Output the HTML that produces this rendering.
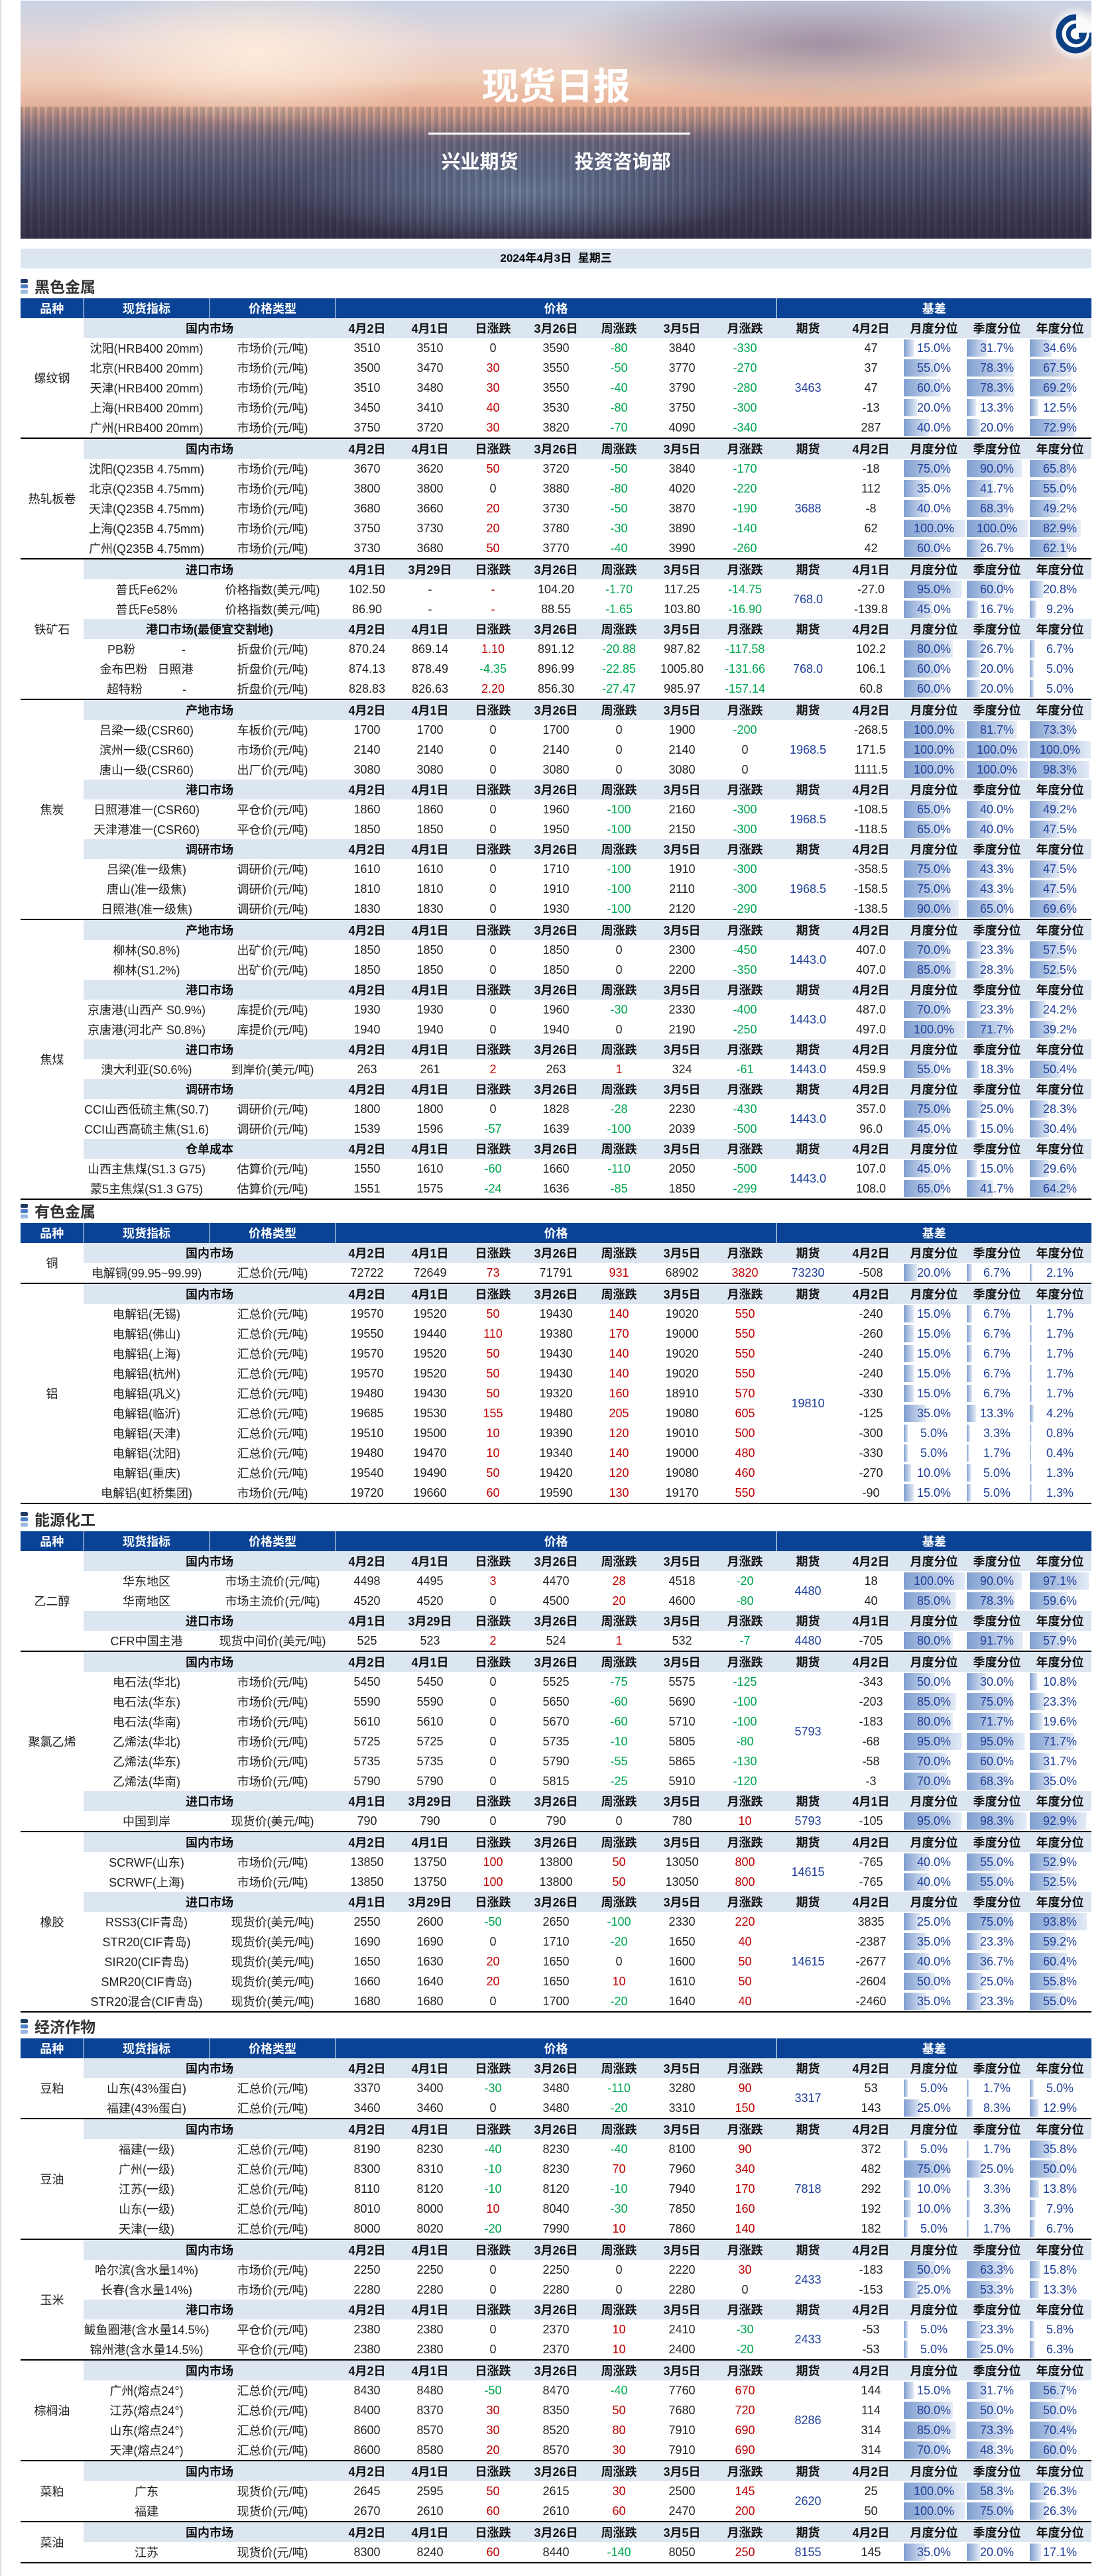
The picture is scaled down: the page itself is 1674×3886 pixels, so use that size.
<!DOCTYPE html>
<html><head><meta charset="utf-8">
<style>
body{margin:0;width:1674px;height:3886px;position:relative;background:#fff;font-family:"Liberation Sans","Noto Sans CJK SC",sans-serif;overflow:hidden;border-left:2px solid #ddd;box-sizing:border-box}
.hero{position:absolute;left:29px;top:1px;width:1615px;height:359px;overflow:hidden;
background:
radial-gradient(ellipse 22% 22% at 47% 80%,rgba(120,140,170,.95),rgba(120,140,170,0) 100%),
radial-gradient(ellipse 18% 30% at 22% 22%,rgba(255,236,220,.95),rgba(255,236,220,0) 100%),
radial-gradient(ellipse 25% 25% at 75% 18%,rgba(130,115,140,.7),rgba(130,115,140,0) 100%),
radial-gradient(ellipse 40% 12% at 50% 45%,rgba(240,180,150,.7),rgba(240,180,150,0) 100%),
linear-gradient(180deg,#c8d2e4 0%,#e6d6d6 18%,#efcdb8 33%,#e3b29d 44%,#a88c92 52%,#76728c 60%,#5a5f7e 72%,#4a4865 86%,#3a3550 100%)}
.hero .city{position:absolute;left:0;top:160px;width:100%;height:200px;background:repeating-linear-gradient(90deg,rgba(40,40,60,.25) 0 3px,rgba(200,150,130,.15) 3px 7px,rgba(30,30,50,.2) 7px 11px);mix-blend-mode:multiply}
.hero .t{position:absolute;left:0;width:100%;text-align:center;color:#fff;font-weight:bold}
.logo{position:absolute;left:1550px;top:8px;width:84px;height:84px;border-radius:50%;background:radial-gradient(circle,rgba(255,255,255,.9) 40%,rgba(255,255,255,0) 70%)}
.date{position:absolute;left:29px;top:375px;width:1615px;height:30px;background:#dce6f1;text-align:center;line-height:30px;font-weight:bold;font-size:17px}
.sec{position:absolute;left:29px;height:28px;font-size:23px;font-weight:bold;color:#333;line-height:28px;padding-left:21px}
.sec i{position:absolute;left:0;width:11px;height:6px;border-radius:2px}
table{position:absolute;left:29px;width:1615px;border-collapse:collapse;table-layout:fixed;font-size:18px}
td{height:30px;padding:0;text-align:center;white-space:nowrap;overflow:hidden;color:#222}
tr.h td{background:#0a4396;color:#fff;font-weight:bold;border-left:1px solid #fff}
tr.h td:first-child{border-left:0}
tr.s td{background:#dce6f1;font-weight:bold;color:#111}
tr.s td.c,td.c{background:#fff;font-weight:normal;color:#222}
tbody{border-bottom:2px solid #000}
td.r{color:#c00000}td.g{color:#00a651}td.b{color:#1f3f99}
td.p{color:#1f3f99;background:linear-gradient(90deg,#7f9ed0,#e4ebf6) no-repeat 2px 50%/calc(var(--p)*0.9px + 2px) 26px}
</style></head><body>
<div class="hero">
<div class="city"></div>
<div class="t" style="top:95px;font-size:56px;line-height:70px;">现货日报</div>
<div style="position:absolute;left:615px;top:199px;width:395px;height:3px;background:#fff"></div>
<div class="t" style="top:226px;font-size:29px;line-height:36px;word-spacing:0"><span style="margin-right:85px">兴业期货</span>投资咨询部</div>
<div class="logo"><svg width="84" height="84" viewBox="0 0 84 84"><path d="M42 17 A25 25 0 1 0 66 40" fill="none" stroke="#0b3f84" stroke-width="9"/><path d="M42 30 A12 12 0 1 0 54 44 L46 44" fill="none" stroke="#0b3f84" stroke-width="7"/></svg></div>
</div>
<div class="date">2024年4月3日&nbsp;&nbsp;星期三</div>

<div class="sec" style="top:419px"><i style="top:2px;background:#1f3b66"></i><i style="top:10px;background:#4f7fc4"></i><i style="top:18px;background:#9bb8e0"></i>黑色金属</div>
<table style="top:450px">
<colgroup><col style="width:95px"><col style="width:190px"><col style="width:190px"><col span="12" style="width:95px"></colgroup>
<thead><tr class="h"><td>品种</td><td>现货指标</td><td>价格类型</td><td colspan="7">价格</td><td colspan="5">基差</td></tr></thead>
<tbody>
<tr class="s"><td class="c" rowspan="6">螺纹钢</td><td colspan="2">国内市场</td><td>4月2日</td><td>4月1日</td><td>日涨跌</td><td>3月26日</td><td>周涨跌</td><td>3月5日</td><td>月涨跌</td><td>期货</td><td>4月2日</td><td>月度分位</td><td>季度分位</td><td>年度分位</td></tr>
<tr><td>沈阳(HRB400 20mm)</td><td>市场价(元/吨)</td><td>3510</td><td>3510</td><td>0</td><td>3590</td><td class="g">-80</td><td>3840</td><td class="g">-330</td><td class="b" rowspan="5">3463</td><td>47</td><td class="p" style="--p:15">15.0%</td><td class="p" style="--p:31.7">31.7%</td><td class="p" style="--p:34.6">34.6%</td></tr>
<tr><td>北京(HRB400 20mm)</td><td>市场价(元/吨)</td><td>3500</td><td>3470</td><td class="r">30</td><td>3550</td><td class="g">-50</td><td>3770</td><td class="g">-270</td><td>37</td><td class="p" style="--p:55">55.0%</td><td class="p" style="--p:78.3">78.3%</td><td class="p" style="--p:67.5">67.5%</td></tr>
<tr><td>天津(HRB400 20mm)</td><td>市场价(元/吨)</td><td>3510</td><td>3480</td><td class="r">30</td><td>3550</td><td class="g">-40</td><td>3790</td><td class="g">-280</td><td>47</td><td class="p" style="--p:60">60.0%</td><td class="p" style="--p:78.3">78.3%</td><td class="p" style="--p:69.2">69.2%</td></tr>
<tr><td>上海(HRB400 20mm)</td><td>市场价(元/吨)</td><td>3450</td><td>3410</td><td class="r">40</td><td>3530</td><td class="g">-80</td><td>3750</td><td class="g">-300</td><td>-13</td><td class="p" style="--p:20">20.0%</td><td class="p" style="--p:13.3">13.3%</td><td class="p" style="--p:12.5">12.5%</td></tr>
<tr><td>广州(HRB400 20mm)</td><td>市场价(元/吨)</td><td>3750</td><td>3720</td><td class="r">30</td><td>3820</td><td class="g">-70</td><td>4090</td><td class="g">-340</td><td>287</td><td class="p" style="--p:40">40.0%</td><td class="p" style="--p:20">20.0%</td><td class="p" style="--p:72.9">72.9%</td></tr>
</tbody>
<tbody>
<tr class="s"><td class="c" rowspan="6">热轧板卷</td><td colspan="2">国内市场</td><td>4月2日</td><td>4月1日</td><td>日涨跌</td><td>3月26日</td><td>周涨跌</td><td>3月5日</td><td>月涨跌</td><td>期货</td><td>4月2日</td><td>月度分位</td><td>季度分位</td><td>年度分位</td></tr>
<tr><td>沈阳(Q235B 4.75mm)</td><td>市场价(元/吨)</td><td>3670</td><td>3620</td><td class="r">50</td><td>3720</td><td class="g">-50</td><td>3840</td><td class="g">-170</td><td class="b" rowspan="5">3688</td><td>-18</td><td class="p" style="--p:75">75.0%</td><td class="p" style="--p:90">90.0%</td><td class="p" style="--p:65.8">65.8%</td></tr>
<tr><td>北京(Q235B 4.75mm)</td><td>市场价(元/吨)</td><td>3800</td><td>3800</td><td>0</td><td>3880</td><td class="g">-80</td><td>4020</td><td class="g">-220</td><td>112</td><td class="p" style="--p:35">35.0%</td><td class="p" style="--p:41.7">41.7%</td><td class="p" style="--p:55">55.0%</td></tr>
<tr><td>天津(Q235B 4.75mm)</td><td>市场价(元/吨)</td><td>3680</td><td>3660</td><td class="r">20</td><td>3730</td><td class="g">-50</td><td>3870</td><td class="g">-190</td><td>-8</td><td class="p" style="--p:40">40.0%</td><td class="p" style="--p:68.3">68.3%</td><td class="p" style="--p:49.2">49.2%</td></tr>
<tr><td>上海(Q235B 4.75mm)</td><td>市场价(元/吨)</td><td>3750</td><td>3730</td><td class="r">20</td><td>3780</td><td class="g">-30</td><td>3890</td><td class="g">-140</td><td>62</td><td class="p" style="--p:100">100.0%</td><td class="p" style="--p:100">100.0%</td><td class="p" style="--p:82.9">82.9%</td></tr>
<tr><td>广州(Q235B 4.75mm)</td><td>市场价(元/吨)</td><td>3730</td><td>3680</td><td class="r">50</td><td>3770</td><td class="g">-40</td><td>3990</td><td class="g">-260</td><td>42</td><td class="p" style="--p:60">60.0%</td><td class="p" style="--p:26.7">26.7%</td><td class="p" style="--p:62.1">62.1%</td></tr>
</tbody>
<tbody>
<tr class="s"><td class="c" rowspan="7">铁矿石</td><td colspan="2">进口市场</td><td>4月1日</td><td>3月29日</td><td>日涨跌</td><td>3月26日</td><td>周涨跌</td><td>3月5日</td><td>月涨跌</td><td>期货</td><td>4月1日</td><td>月度分位</td><td>季度分位</td><td>年度分位</td></tr>
<tr><td>普氏Fe62%</td><td>价格指数(美元/吨)</td><td>102.50</td><td>-</td><td class="r">-</td><td>104.20</td><td class="g">-1.70</td><td>117.25</td><td class="g">-14.75</td><td class="b" rowspan="2">768.0</td><td>-27.0</td><td class="p" style="--p:95">95.0%</td><td class="p" style="--p:60">60.0%</td><td class="p" style="--p:20.8">20.8%</td></tr>
<tr><td>普氏Fe58%</td><td>价格指数(美元/吨)</td><td>86.90</td><td>-</td><td class="r">-</td><td>88.55</td><td class="g">-1.65</td><td>103.80</td><td class="g">-16.90</td><td>-139.8</td><td class="p" style="--p:45">45.0%</td><td class="p" style="--p:16.7">16.7%</td><td class="p" style="--p:9.2">9.2%</td></tr>
<tr class="s"><td colspan="2">港口市场(最便宜交割地)</td><td>4月2日</td><td>4月1日</td><td>日涨跌</td><td>3月26日</td><td>周涨跌</td><td>3月5日</td><td>月涨跌</td><td>期货</td><td>4月2日</td><td>月度分位</td><td>季度分位</td><td>年度分位</td></tr>
<tr><td>PB粉&nbsp;&nbsp;&nbsp;&nbsp;&nbsp;&nbsp;&nbsp;&nbsp;&nbsp;&nbsp;&nbsp;&nbsp;&nbsp;&nbsp;-</td><td>折盘价(元/吨)</td><td>870.24</td><td>869.14</td><td class="r">1.10</td><td>891.12</td><td class="g">-20.88</td><td>987.82</td><td class="g">-117.58</td><td class="b" rowspan="3">768.0</td><td>102.2</td><td class="p" style="--p:80">80.0%</td><td class="p" style="--p:26.7">26.7%</td><td class="p" style="--p:6.7">6.7%</td></tr>
<tr><td>金布巴粉&nbsp;&nbsp;&nbsp;日照港</td><td>折盘价(元/吨)</td><td>874.13</td><td>878.49</td><td class="g">-4.35</td><td>896.99</td><td class="g">-22.85</td><td>1005.80</td><td class="g">-131.66</td><td>106.1</td><td class="p" style="--p:60">60.0%</td><td class="p" style="--p:20">20.0%</td><td class="p" style="--p:5">5.0%</td></tr>
<tr><td>超特粉&nbsp;&nbsp;&nbsp;&nbsp;&nbsp;&nbsp;&nbsp;&nbsp;&nbsp;&nbsp;&nbsp;&nbsp;-</td><td>折盘价(元/吨)</td><td>828.83</td><td>826.63</td><td class="r">2.20</td><td>856.30</td><td class="g">-27.47</td><td>985.97</td><td class="g">-157.14</td><td>60.8</td><td class="p" style="--p:60">60.0%</td><td class="p" style="--p:20">20.0%</td><td class="p" style="--p:5">5.0%</td></tr>
</tbody>
<tbody>
<tr class="s"><td class="c" rowspan="11">焦炭</td><td colspan="2">产地市场</td><td>4月2日</td><td>4月1日</td><td>日涨跌</td><td>3月26日</td><td>周涨跌</td><td>3月5日</td><td>月涨跌</td><td>期货</td><td>4月2日</td><td>月度分位</td><td>季度分位</td><td>年度分位</td></tr>
<tr><td>吕梁一级(CSR60)</td><td>车板价(元/吨)</td><td>1700</td><td>1700</td><td>0</td><td>1700</td><td>0</td><td>1900</td><td class="g">-200</td><td class="b" rowspan="3">1968.5</td><td>-268.5</td><td class="p" style="--p:100">100.0%</td><td class="p" style="--p:81.7">81.7%</td><td class="p" style="--p:73.3">73.3%</td></tr>
<tr><td>滨州一级(CSR60)</td><td>市场价(元/吨)</td><td>2140</td><td>2140</td><td>0</td><td>2140</td><td>0</td><td>2140</td><td>0</td><td>171.5</td><td class="p" style="--p:100">100.0%</td><td class="p" style="--p:100">100.0%</td><td class="p" style="--p:100">100.0%</td></tr>
<tr><td>唐山一级(CSR60)</td><td>出厂价(元/吨)</td><td>3080</td><td>3080</td><td>0</td><td>3080</td><td>0</td><td>3080</td><td>0</td><td>1111.5</td><td class="p" style="--p:100">100.0%</td><td class="p" style="--p:100">100.0%</td><td class="p" style="--p:98.3">98.3%</td></tr>
<tr class="s"><td colspan="2">港口市场</td><td>4月2日</td><td>4月1日</td><td>日涨跌</td><td>3月26日</td><td>周涨跌</td><td>3月5日</td><td>月涨跌</td><td>期货</td><td>4月2日</td><td>月度分位</td><td>季度分位</td><td>年度分位</td></tr>
<tr><td>日照港准一(CSR60)</td><td>平仓价(元/吨)</td><td>1860</td><td>1860</td><td>0</td><td>1960</td><td class="g">-100</td><td>2160</td><td class="g">-300</td><td class="b" rowspan="2">1968.5</td><td>-108.5</td><td class="p" style="--p:65">65.0%</td><td class="p" style="--p:40">40.0%</td><td class="p" style="--p:49.2">49.2%</td></tr>
<tr><td>天津港准一(CSR60)</td><td>平仓价(元/吨)</td><td>1850</td><td>1850</td><td>0</td><td>1950</td><td class="g">-100</td><td>2150</td><td class="g">-300</td><td>-118.5</td><td class="p" style="--p:65">65.0%</td><td class="p" style="--p:40">40.0%</td><td class="p" style="--p:47.5">47.5%</td></tr>
<tr class="s"><td colspan="2">调研市场</td><td>4月2日</td><td>4月1日</td><td>日涨跌</td><td>3月26日</td><td>周涨跌</td><td>3月5日</td><td>月涨跌</td><td>期货</td><td>4月2日</td><td>月度分位</td><td>季度分位</td><td>年度分位</td></tr>
<tr><td>吕梁(准一级焦)</td><td>调研价(元/吨)</td><td>1610</td><td>1610</td><td>0</td><td>1710</td><td class="g">-100</td><td>1910</td><td class="g">-300</td><td class="b" rowspan="3">1968.5</td><td>-358.5</td><td class="p" style="--p:75">75.0%</td><td class="p" style="--p:43.3">43.3%</td><td class="p" style="--p:47.5">47.5%</td></tr>
<tr><td>唐山(准一级焦)</td><td>调研价(元/吨)</td><td>1810</td><td>1810</td><td>0</td><td>1910</td><td class="g">-100</td><td>2110</td><td class="g">-300</td><td>-158.5</td><td class="p" style="--p:75">75.0%</td><td class="p" style="--p:43.3">43.3%</td><td class="p" style="--p:47.5">47.5%</td></tr>
<tr><td>日照港(准一级焦)</td><td>调研价(元/吨)</td><td>1830</td><td>1830</td><td>0</td><td>1930</td><td class="g">-100</td><td>2120</td><td class="g">-290</td><td>-138.5</td><td class="p" style="--p:90">90.0%</td><td class="p" style="--p:65">65.0%</td><td class="p" style="--p:69.6">69.6%</td></tr>
</tbody>
<tbody>
<tr class="s"><td class="c" rowspan="14">焦煤</td><td colspan="2">产地市场</td><td>4月2日</td><td>4月1日</td><td>日涨跌</td><td>3月26日</td><td>周涨跌</td><td>3月5日</td><td>月涨跌</td><td>期货</td><td>4月2日</td><td>月度分位</td><td>季度分位</td><td>年度分位</td></tr>
<tr><td>柳林(S0.8%)</td><td>出矿价(元/吨)</td><td>1850</td><td>1850</td><td>0</td><td>1850</td><td>0</td><td>2300</td><td class="g">-450</td><td class="b" rowspan="2">1443.0</td><td>407.0</td><td class="p" style="--p:70">70.0%</td><td class="p" style="--p:23.3">23.3%</td><td class="p" style="--p:57.5">57.5%</td></tr>
<tr><td>柳林(S1.2%)</td><td>出矿价(元/吨)</td><td>1850</td><td>1850</td><td>0</td><td>1850</td><td>0</td><td>2200</td><td class="g">-350</td><td>407.0</td><td class="p" style="--p:85">85.0%</td><td class="p" style="--p:28.3">28.3%</td><td class="p" style="--p:52.5">52.5%</td></tr>
<tr class="s"><td colspan="2">港口市场</td><td>4月2日</td><td>4月1日</td><td>日涨跌</td><td>3月26日</td><td>周涨跌</td><td>3月5日</td><td>月涨跌</td><td>期货</td><td>4月2日</td><td>月度分位</td><td>季度分位</td><td>年度分位</td></tr>
<tr><td>京唐港(山西产 S0.9%)</td><td>库提价(元/吨)</td><td>1930</td><td>1930</td><td>0</td><td>1960</td><td class="g">-30</td><td>2330</td><td class="g">-400</td><td class="b" rowspan="2">1443.0</td><td>487.0</td><td class="p" style="--p:70">70.0%</td><td class="p" style="--p:23.3">23.3%</td><td class="p" style="--p:24.2">24.2%</td></tr>
<tr><td>京唐港(河北产 S0.8%)</td><td>库提价(元/吨)</td><td>1940</td><td>1940</td><td>0</td><td>1940</td><td>0</td><td>2190</td><td class="g">-250</td><td>497.0</td><td class="p" style="--p:100">100.0%</td><td class="p" style="--p:71.7">71.7%</td><td class="p" style="--p:39.2">39.2%</td></tr>
<tr class="s"><td colspan="2">进口市场</td><td>4月2日</td><td>4月1日</td><td>日涨跌</td><td>3月26日</td><td>周涨跌</td><td>3月5日</td><td>月涨跌</td><td>期货</td><td>4月2日</td><td>月度分位</td><td>季度分位</td><td>年度分位</td></tr>
<tr><td>澳大利亚(S0.6%)</td><td>到岸价(美元/吨)</td><td>263</td><td>261</td><td class="r">2</td><td>263</td><td class="r">1</td><td>324</td><td class="g">-61</td><td class="b">1443.0</td><td>459.9</td><td class="p" style="--p:55">55.0%</td><td class="p" style="--p:18.3">18.3%</td><td class="p" style="--p:50.4">50.4%</td></tr>
<tr class="s"><td colspan="2">调研市场</td><td>4月2日</td><td>4月1日</td><td>日涨跌</td><td>3月26日</td><td>周涨跌</td><td>3月5日</td><td>月涨跌</td><td>期货</td><td>4月2日</td><td>月度分位</td><td>季度分位</td><td>年度分位</td></tr>
<tr><td>CCI山西低硫主焦(S0.7)</td><td>调研价(元/吨)</td><td>1800</td><td>1800</td><td>0</td><td>1828</td><td class="g">-28</td><td>2230</td><td class="g">-430</td><td class="b" rowspan="2">1443.0</td><td>357.0</td><td class="p" style="--p:75">75.0%</td><td class="p" style="--p:25">25.0%</td><td class="p" style="--p:28.3">28.3%</td></tr>
<tr><td>CCI山西高硫主焦(S1.6)</td><td>调研价(元/吨)</td><td>1539</td><td>1596</td><td class="g">-57</td><td>1639</td><td class="g">-100</td><td>2039</td><td class="g">-500</td><td>96.0</td><td class="p" style="--p:45">45.0%</td><td class="p" style="--p:15">15.0%</td><td class="p" style="--p:30.4">30.4%</td></tr>
<tr class="s"><td colspan="2">仓单成本</td><td>4月2日</td><td>4月1日</td><td>日涨跌</td><td>3月26日</td><td>周涨跌</td><td>3月5日</td><td>月涨跌</td><td>期货</td><td>4月2日</td><td>月度分位</td><td>季度分位</td><td>年度分位</td></tr>
<tr><td>山西主焦煤(S1.3 G75)</td><td>估算价(元/吨)</td><td>1550</td><td>1610</td><td class="g">-60</td><td>1660</td><td class="g">-110</td><td>2050</td><td class="g">-500</td><td class="b" rowspan="2">1443.0</td><td>107.0</td><td class="p" style="--p:45">45.0%</td><td class="p" style="--p:15">15.0%</td><td class="p" style="--p:29.6">29.6%</td></tr>
<tr><td>蒙5主焦煤(S1.3 G75)</td><td>估算价(元/吨)</td><td>1551</td><td>1575</td><td class="g">-24</td><td>1636</td><td class="g">-85</td><td>1850</td><td class="g">-299</td><td>108.0</td><td class="p" style="--p:65">65.0%</td><td class="p" style="--p:41.7">41.7%</td><td class="p" style="--p:64.2">64.2%</td></tr>
</tbody>
</table>

<div class="sec" style="top:1814px"><i style="top:2px;background:#1f3b66"></i><i style="top:10px;background:#4f7fc4"></i><i style="top:18px;background:#9bb8e0"></i>有色金属</div>
<table style="top:1845px">
<colgroup><col style="width:95px"><col style="width:190px"><col style="width:190px"><col span="12" style="width:95px"></colgroup>
<thead><tr class="h"><td>品种</td><td>现货指标</td><td>价格类型</td><td colspan="7">价格</td><td colspan="5">基差</td></tr></thead>
<tbody>
<tr class="s"><td class="c" rowspan="2">铜</td><td colspan="2">国内市场</td><td>4月2日</td><td>4月1日</td><td>日涨跌</td><td>3月26日</td><td>周涨跌</td><td>3月5日</td><td>月涨跌</td><td>期货</td><td>4月2日</td><td>月度分位</td><td>季度分位</td><td>年度分位</td></tr>
<tr><td>电解铜(99.95~99.99)</td><td>汇总价(元/吨)</td><td>72722</td><td>72649</td><td class="r">73</td><td>71791</td><td class="r">931</td><td>68902</td><td class="r">3820</td><td class="b">73230</td><td>-508</td><td class="p" style="--p:20">20.0%</td><td class="p" style="--p:6.7">6.7%</td><td class="p" style="--p:2.1">2.1%</td></tr>
</tbody>
<tbody>
<tr class="s"><td class="c" rowspan="11">铝</td><td colspan="2">国内市场</td><td>4月2日</td><td>4月1日</td><td>日涨跌</td><td>3月26日</td><td>周涨跌</td><td>3月5日</td><td>月涨跌</td><td>期货</td><td>4月2日</td><td>月度分位</td><td>季度分位</td><td>年度分位</td></tr>
<tr><td>电解铝(无锡)</td><td>汇总价(元/吨)</td><td>19570</td><td>19520</td><td class="r">50</td><td>19430</td><td class="r">140</td><td>19020</td><td class="r">550</td><td class="b" rowspan="10">19810</td><td>-240</td><td class="p" style="--p:15">15.0%</td><td class="p" style="--p:6.7">6.7%</td><td class="p" style="--p:1.7">1.7%</td></tr>
<tr><td>电解铝(佛山)</td><td>汇总价(元/吨)</td><td>19550</td><td>19440</td><td class="r">110</td><td>19380</td><td class="r">170</td><td>19000</td><td class="r">550</td><td>-260</td><td class="p" style="--p:15">15.0%</td><td class="p" style="--p:6.7">6.7%</td><td class="p" style="--p:1.7">1.7%</td></tr>
<tr><td>电解铝(上海)</td><td>汇总价(元/吨)</td><td>19570</td><td>19520</td><td class="r">50</td><td>19430</td><td class="r">140</td><td>19020</td><td class="r">550</td><td>-240</td><td class="p" style="--p:15">15.0%</td><td class="p" style="--p:6.7">6.7%</td><td class="p" style="--p:1.7">1.7%</td></tr>
<tr><td>电解铝(杭州)</td><td>汇总价(元/吨)</td><td>19570</td><td>19520</td><td class="r">50</td><td>19430</td><td class="r">140</td><td>19020</td><td class="r">550</td><td>-240</td><td class="p" style="--p:15">15.0%</td><td class="p" style="--p:6.7">6.7%</td><td class="p" style="--p:1.7">1.7%</td></tr>
<tr><td>电解铝(巩义)</td><td>汇总价(元/吨)</td><td>19480</td><td>19430</td><td class="r">50</td><td>19320</td><td class="r">160</td><td>18910</td><td class="r">570</td><td>-330</td><td class="p" style="--p:15">15.0%</td><td class="p" style="--p:6.7">6.7%</td><td class="p" style="--p:1.7">1.7%</td></tr>
<tr><td>电解铝(临沂)</td><td>汇总价(元/吨)</td><td>19685</td><td>19530</td><td class="r">155</td><td>19480</td><td class="r">205</td><td>19080</td><td class="r">605</td><td>-125</td><td class="p" style="--p:35">35.0%</td><td class="p" style="--p:13.3">13.3%</td><td class="p" style="--p:4.2">4.2%</td></tr>
<tr><td>电解铝(天津)</td><td>汇总价(元/吨)</td><td>19510</td><td>19500</td><td class="r">10</td><td>19390</td><td class="r">120</td><td>19010</td><td class="r">500</td><td>-300</td><td class="p" style="--p:5">5.0%</td><td class="p" style="--p:3.3">3.3%</td><td class="p" style="--p:0.8">0.8%</td></tr>
<tr><td>电解铝(沈阳)</td><td>汇总价(元/吨)</td><td>19480</td><td>19470</td><td class="r">10</td><td>19340</td><td class="r">140</td><td>19000</td><td class="r">480</td><td>-330</td><td class="p" style="--p:5">5.0%</td><td class="p" style="--p:1.7">1.7%</td><td class="p" style="--p:0.4">0.4%</td></tr>
<tr><td>电解铝(重庆)</td><td>汇总价(元/吨)</td><td>19540</td><td>19490</td><td class="r">50</td><td>19420</td><td class="r">120</td><td>19080</td><td class="r">460</td><td>-270</td><td class="p" style="--p:10">10.0%</td><td class="p" style="--p:5">5.0%</td><td class="p" style="--p:1.3">1.3%</td></tr>
<tr><td>电解铝(虹桥集团)</td><td>市场价(元/吨)</td><td>19720</td><td>19660</td><td class="r">60</td><td>19590</td><td class="r">130</td><td>19170</td><td class="r">550</td><td>-90</td><td class="p" style="--p:15">15.0%</td><td class="p" style="--p:5">5.0%</td><td class="p" style="--p:1.3">1.3%</td></tr>
</tbody>
</table>

<div class="sec" style="top:2279px"><i style="top:2px;background:#1f3b66"></i><i style="top:10px;background:#4f7fc4"></i><i style="top:18px;background:#9bb8e0"></i>能源化工</div>
<table style="top:2310px">
<colgroup><col style="width:95px"><col style="width:190px"><col style="width:190px"><col span="12" style="width:95px"></colgroup>
<thead><tr class="h"><td>品种</td><td>现货指标</td><td>价格类型</td><td colspan="7">价格</td><td colspan="5">基差</td></tr></thead>
<tbody>
<tr class="s"><td class="c" rowspan="5">乙二醇</td><td colspan="2">国内市场</td><td>4月2日</td><td>4月1日</td><td>日涨跌</td><td>3月26日</td><td>周涨跌</td><td>3月5日</td><td>月涨跌</td><td>期货</td><td>4月2日</td><td>月度分位</td><td>季度分位</td><td>年度分位</td></tr>
<tr><td>华东地区</td><td>市场主流价(元/吨)</td><td>4498</td><td>4495</td><td class="r">3</td><td>4470</td><td class="r">28</td><td>4518</td><td class="g">-20</td><td class="b" rowspan="2">4480</td><td>18</td><td class="p" style="--p:100">100.0%</td><td class="p" style="--p:90">90.0%</td><td class="p" style="--p:97.1">97.1%</td></tr>
<tr><td>华南地区</td><td>市场主流价(元/吨)</td><td>4520</td><td>4520</td><td>0</td><td>4500</td><td class="r">20</td><td>4600</td><td class="g">-80</td><td>40</td><td class="p" style="--p:85">85.0%</td><td class="p" style="--p:78.3">78.3%</td><td class="p" style="--p:59.6">59.6%</td></tr>
<tr class="s"><td colspan="2">进口市场</td><td>4月1日</td><td>3月29日</td><td>日涨跌</td><td>3月26日</td><td>周涨跌</td><td>3月5日</td><td>月涨跌</td><td>期货</td><td>4月1日</td><td>月度分位</td><td>季度分位</td><td>年度分位</td></tr>
<tr><td>CFR中国主港</td><td>现货中间价(美元/吨)</td><td>525</td><td>523</td><td class="r">2</td><td>524</td><td class="r">1</td><td>532</td><td class="g">-7</td><td class="b">4480</td><td>-705</td><td class="p" style="--p:80">80.0%</td><td class="p" style="--p:91.7">91.7%</td><td class="p" style="--p:57.9">57.9%</td></tr>
</tbody>
<tbody>
<tr class="s"><td class="c" rowspan="9">聚氯乙烯</td><td colspan="2">国内市场</td><td>4月2日</td><td>4月1日</td><td>日涨跌</td><td>3月26日</td><td>周涨跌</td><td>3月5日</td><td>月涨跌</td><td>期货</td><td>4月2日</td><td>月度分位</td><td>季度分位</td><td>年度分位</td></tr>
<tr><td>电石法(华北)</td><td>市场价(元/吨)</td><td>5450</td><td>5450</td><td>0</td><td>5525</td><td class="g">-75</td><td>5575</td><td class="g">-125</td><td class="b" rowspan="6">5793</td><td>-343</td><td class="p" style="--p:50">50.0%</td><td class="p" style="--p:30">30.0%</td><td class="p" style="--p:10.8">10.8%</td></tr>
<tr><td>电石法(华东)</td><td>市场价(元/吨)</td><td>5590</td><td>5590</td><td>0</td><td>5650</td><td class="g">-60</td><td>5690</td><td class="g">-100</td><td>-203</td><td class="p" style="--p:85">85.0%</td><td class="p" style="--p:75">75.0%</td><td class="p" style="--p:23.3">23.3%</td></tr>
<tr><td>电石法(华南)</td><td>市场价(元/吨)</td><td>5610</td><td>5610</td><td>0</td><td>5670</td><td class="g">-60</td><td>5710</td><td class="g">-100</td><td>-183</td><td class="p" style="--p:80">80.0%</td><td class="p" style="--p:71.7">71.7%</td><td class="p" style="--p:19.6">19.6%</td></tr>
<tr><td>乙烯法(华北)</td><td>市场价(元/吨)</td><td>5725</td><td>5725</td><td>0</td><td>5735</td><td class="g">-10</td><td>5805</td><td class="g">-80</td><td>-68</td><td class="p" style="--p:95">95.0%</td><td class="p" style="--p:95">95.0%</td><td class="p" style="--p:71.7">71.7%</td></tr>
<tr><td>乙烯法(华东)</td><td>市场价(元/吨)</td><td>5735</td><td>5735</td><td>0</td><td>5790</td><td class="g">-55</td><td>5865</td><td class="g">-130</td><td>-58</td><td class="p" style="--p:70">70.0%</td><td class="p" style="--p:60">60.0%</td><td class="p" style="--p:31.7">31.7%</td></tr>
<tr><td>乙烯法(华南)</td><td>市场价(元/吨)</td><td>5790</td><td>5790</td><td>0</td><td>5815</td><td class="g">-25</td><td>5910</td><td class="g">-120</td><td>-3</td><td class="p" style="--p:70">70.0%</td><td class="p" style="--p:68.3">68.3%</td><td class="p" style="--p:35">35.0%</td></tr>
<tr class="s"><td colspan="2">进口市场</td><td>4月1日</td><td>3月29日</td><td>日涨跌</td><td>3月26日</td><td>周涨跌</td><td>3月5日</td><td>月涨跌</td><td>期货</td><td>4月1日</td><td>月度分位</td><td>季度分位</td><td>年度分位</td></tr>
<tr><td>中国到岸</td><td>现货价(美元/吨)</td><td>790</td><td>790</td><td>0</td><td>790</td><td>0</td><td>780</td><td class="r">10</td><td class="b">5793</td><td>-105</td><td class="p" style="--p:95">95.0%</td><td class="p" style="--p:98.3">98.3%</td><td class="p" style="--p:92.9">92.9%</td></tr>
</tbody>
<tbody>
<tr class="s"><td class="c" rowspan="9">橡胶</td><td colspan="2">国内市场</td><td>4月2日</td><td>4月1日</td><td>日涨跌</td><td>3月26日</td><td>周涨跌</td><td>3月5日</td><td>月涨跌</td><td>期货</td><td>4月2日</td><td>月度分位</td><td>季度分位</td><td>年度分位</td></tr>
<tr><td>SCRWF(山东)</td><td>市场价(元/吨)</td><td>13850</td><td>13750</td><td class="r">100</td><td>13800</td><td class="r">50</td><td>13050</td><td class="r">800</td><td class="b" rowspan="2">14615</td><td>-765</td><td class="p" style="--p:40">40.0%</td><td class="p" style="--p:55">55.0%</td><td class="p" style="--p:52.9">52.9%</td></tr>
<tr><td>SCRWF(上海)</td><td>市场价(元/吨)</td><td>13850</td><td>13750</td><td class="r">100</td><td>13800</td><td class="r">50</td><td>13050</td><td class="r">800</td><td>-765</td><td class="p" style="--p:40">40.0%</td><td class="p" style="--p:55">55.0%</td><td class="p" style="--p:52.5">52.5%</td></tr>
<tr class="s"><td colspan="2">进口市场</td><td>4月1日</td><td>3月29日</td><td>日涨跌</td><td>3月26日</td><td>周涨跌</td><td>3月5日</td><td>月涨跌</td><td>期货</td><td>4月2日</td><td>月度分位</td><td>季度分位</td><td>年度分位</td></tr>
<tr><td>RSS3(CIF青岛)</td><td>现货价(美元/吨)</td><td>2550</td><td>2600</td><td class="g">-50</td><td>2650</td><td class="g">-100</td><td>2330</td><td class="r">220</td><td class="b" rowspan="5">14615</td><td>3835</td><td class="p" style="--p:25">25.0%</td><td class="p" style="--p:75">75.0%</td><td class="p" style="--p:93.8">93.8%</td></tr>
<tr><td>STR20(CIF青岛)</td><td>现货价(美元/吨)</td><td>1690</td><td>1690</td><td>0</td><td>1710</td><td class="g">-20</td><td>1650</td><td class="r">40</td><td>-2387</td><td class="p" style="--p:35">35.0%</td><td class="p" style="--p:23.3">23.3%</td><td class="p" style="--p:59.2">59.2%</td></tr>
<tr><td>SIR20(CIF青岛)</td><td>现货价(美元/吨)</td><td>1650</td><td>1630</td><td class="r">20</td><td>1650</td><td>0</td><td>1600</td><td class="r">50</td><td>-2677</td><td class="p" style="--p:40">40.0%</td><td class="p" style="--p:36.7">36.7%</td><td class="p" style="--p:60.4">60.4%</td></tr>
<tr><td>SMR20(CIF青岛)</td><td>现货价(美元/吨)</td><td>1660</td><td>1640</td><td class="r">20</td><td>1650</td><td class="r">10</td><td>1610</td><td class="r">50</td><td>-2604</td><td class="p" style="--p:50">50.0%</td><td class="p" style="--p:25">25.0%</td><td class="p" style="--p:55.8">55.8%</td></tr>
<tr><td>STR20混合(CIF青岛)</td><td>现货价(美元/吨)</td><td>1680</td><td>1680</td><td>0</td><td>1700</td><td class="g">-20</td><td>1640</td><td class="r">40</td><td>-2460</td><td class="p" style="--p:35">35.0%</td><td class="p" style="--p:23.3">23.3%</td><td class="p" style="--p:55">55.0%</td></tr>
</tbody>
</table>

<div class="sec" style="top:3044px"><i style="top:2px;background:#1f3b66"></i><i style="top:10px;background:#4f7fc4"></i><i style="top:18px;background:#9bb8e0"></i>经济作物</div>
<table style="top:3075px">
<colgroup><col style="width:95px"><col style="width:190px"><col style="width:190px"><col span="12" style="width:95px"></colgroup>
<thead><tr class="h"><td>品种</td><td>现货指标</td><td>价格类型</td><td colspan="7">价格</td><td colspan="5">基差</td></tr></thead>
<tbody>
<tr class="s"><td class="c" rowspan="3">豆粕</td><td colspan="2">国内市场</td><td>4月2日</td><td>4月1日</td><td>日涨跌</td><td>3月26日</td><td>周涨跌</td><td>3月5日</td><td>月涨跌</td><td>期货</td><td>4月2日</td><td>月度分位</td><td>季度分位</td><td>年度分位</td></tr>
<tr><td>山东(43%蛋白)</td><td>汇总价(元/吨)</td><td>3370</td><td>3400</td><td class="g">-30</td><td>3480</td><td class="g">-110</td><td>3280</td><td class="r">90</td><td class="b" rowspan="2">3317</td><td>53</td><td class="p" style="--p:5">5.0%</td><td class="p" style="--p:1.7">1.7%</td><td class="p" style="--p:5">5.0%</td></tr>
<tr><td>福建(43%蛋白)</td><td>汇总价(元/吨)</td><td>3460</td><td>3460</td><td>0</td><td>3480</td><td class="g">-20</td><td>3310</td><td class="r">150</td><td>143</td><td class="p" style="--p:25">25.0%</td><td class="p" style="--p:8.3">8.3%</td><td class="p" style="--p:12.9">12.9%</td></tr>
</tbody>
<tbody>
<tr class="s"><td class="c" rowspan="6">豆油</td><td colspan="2">国内市场</td><td>4月2日</td><td>4月1日</td><td>日涨跌</td><td>3月26日</td><td>周涨跌</td><td>3月5日</td><td>月涨跌</td><td>期货</td><td>4月2日</td><td>月度分位</td><td>季度分位</td><td>年度分位</td></tr>
<tr><td>福建(一级)</td><td>汇总价(元/吨)</td><td>8190</td><td>8230</td><td class="g">-40</td><td>8230</td><td class="g">-40</td><td>8100</td><td class="r">90</td><td class="b" rowspan="5">7818</td><td>372</td><td class="p" style="--p:5">5.0%</td><td class="p" style="--p:1.7">1.7%</td><td class="p" style="--p:35.8">35.8%</td></tr>
<tr><td>广州(一级)</td><td>汇总价(元/吨)</td><td>8300</td><td>8310</td><td class="g">-10</td><td>8230</td><td class="r">70</td><td>7960</td><td class="r">340</td><td>482</td><td class="p" style="--p:75">75.0%</td><td class="p" style="--p:25">25.0%</td><td class="p" style="--p:50">50.0%</td></tr>
<tr><td>江苏(一级)</td><td>汇总价(元/吨)</td><td>8110</td><td>8120</td><td class="g">-10</td><td>8120</td><td class="g">-10</td><td>7940</td><td class="r">170</td><td>292</td><td class="p" style="--p:10">10.0%</td><td class="p" style="--p:3.3">3.3%</td><td class="p" style="--p:13.8">13.8%</td></tr>
<tr><td>山东(一级)</td><td>汇总价(元/吨)</td><td>8010</td><td>8000</td><td class="r">10</td><td>8040</td><td class="g">-30</td><td>7850</td><td class="r">160</td><td>192</td><td class="p" style="--p:10">10.0%</td><td class="p" style="--p:3.3">3.3%</td><td class="p" style="--p:7.9">7.9%</td></tr>
<tr><td>天津(一级)</td><td>汇总价(元/吨)</td><td>8000</td><td>8020</td><td class="g">-20</td><td>7990</td><td class="r">10</td><td>7860</td><td class="r">140</td><td>182</td><td class="p" style="--p:5">5.0%</td><td class="p" style="--p:1.7">1.7%</td><td class="p" style="--p:6.7">6.7%</td></tr>
</tbody>
<tbody>
<tr class="s"><td class="c" rowspan="6">玉米</td><td colspan="2">国内市场</td><td>4月2日</td><td>4月1日</td><td>日涨跌</td><td>3月26日</td><td>周涨跌</td><td>3月5日</td><td>月涨跌</td><td>期货</td><td>4月2日</td><td>月度分位</td><td>季度分位</td><td>年度分位</td></tr>
<tr><td>哈尔滨(含水量14%)</td><td>市场价(元/吨)</td><td>2250</td><td>2250</td><td>0</td><td>2250</td><td>0</td><td>2220</td><td class="r">30</td><td class="b" rowspan="2">2433</td><td>-183</td><td class="p" style="--p:50">50.0%</td><td class="p" style="--p:63.3">63.3%</td><td class="p" style="--p:15.8">15.8%</td></tr>
<tr><td>长春(含水量14%)</td><td>市场价(元/吨)</td><td>2280</td><td>2280</td><td>0</td><td>2280</td><td>0</td><td>2280</td><td>0</td><td>-153</td><td class="p" style="--p:25">25.0%</td><td class="p" style="--p:53.3">53.3%</td><td class="p" style="--p:13.3">13.3%</td></tr>
<tr class="s"><td colspan="2">港口市场</td><td>4月2日</td><td>4月1日</td><td>日涨跌</td><td>3月26日</td><td>周涨跌</td><td>3月5日</td><td>月涨跌</td><td>期货</td><td>4月2日</td><td>月度分位</td><td>季度分位</td><td>年度分位</td></tr>
<tr><td>鲅鱼圈港(含水量14.5%)</td><td>平仓价(元/吨)</td><td>2380</td><td>2380</td><td>0</td><td>2370</td><td class="r">10</td><td>2410</td><td class="g">-30</td><td class="b" rowspan="2">2433</td><td>-53</td><td class="p" style="--p:5">5.0%</td><td class="p" style="--p:23.3">23.3%</td><td class="p" style="--p:5.8">5.8%</td></tr>
<tr><td>锦州港(含水量14.5%)</td><td>平仓价(元/吨)</td><td>2380</td><td>2380</td><td>0</td><td>2370</td><td class="r">10</td><td>2400</td><td class="g">-20</td><td>-53</td><td class="p" style="--p:5">5.0%</td><td class="p" style="--p:25">25.0%</td><td class="p" style="--p:6.3">6.3%</td></tr>
</tbody>
<tbody>
<tr class="s"><td class="c" rowspan="5">棕榈油</td><td colspan="2">国内市场</td><td>4月2日</td><td>4月1日</td><td>日涨跌</td><td>3月26日</td><td>周涨跌</td><td>3月5日</td><td>月涨跌</td><td>期货</td><td>4月2日</td><td>月度分位</td><td>季度分位</td><td>年度分位</td></tr>
<tr><td>广州(熔点24°)</td><td>汇总价(元/吨)</td><td>8430</td><td>8480</td><td class="g">-50</td><td>8470</td><td class="g">-40</td><td>7760</td><td class="r">670</td><td class="b" rowspan="4">8286</td><td>144</td><td class="p" style="--p:15">15.0%</td><td class="p" style="--p:31.7">31.7%</td><td class="p" style="--p:56.7">56.7%</td></tr>
<tr><td>江苏(熔点24°)</td><td>汇总价(元/吨)</td><td>8400</td><td>8370</td><td class="r">30</td><td>8350</td><td class="r">50</td><td>7680</td><td class="r">720</td><td>114</td><td class="p" style="--p:80">80.0%</td><td class="p" style="--p:50">50.0%</td><td class="p" style="--p:50">50.0%</td></tr>
<tr><td>山东(熔点24°)</td><td>汇总价(元/吨)</td><td>8600</td><td>8570</td><td class="r">30</td><td>8520</td><td class="r">80</td><td>7910</td><td class="r">690</td><td>314</td><td class="p" style="--p:85">85.0%</td><td class="p" style="--p:73.3">73.3%</td><td class="p" style="--p:70.4">70.4%</td></tr>
<tr><td>天津(熔点24°)</td><td>汇总价(元/吨)</td><td>8600</td><td>8580</td><td class="r">20</td><td>8570</td><td class="r">30</td><td>7910</td><td class="r">690</td><td>314</td><td class="p" style="--p:70">70.0%</td><td class="p" style="--p:48.3">48.3%</td><td class="p" style="--p:60">60.0%</td></tr>
</tbody>
<tbody>
<tr class="s"><td class="c" rowspan="3">菜粕</td><td colspan="2">国内市场</td><td>4月2日</td><td>4月1日</td><td>日涨跌</td><td>3月26日</td><td>周涨跌</td><td>3月5日</td><td>月涨跌</td><td>期货</td><td>4月2日</td><td>月度分位</td><td>季度分位</td><td>年度分位</td></tr>
<tr><td>广东</td><td>现货价(元/吨)</td><td>2645</td><td>2595</td><td class="r">50</td><td>2615</td><td class="r">30</td><td>2500</td><td class="r">145</td><td class="b" rowspan="2">2620</td><td>25</td><td class="p" style="--p:100">100.0%</td><td class="p" style="--p:58.3">58.3%</td><td class="p" style="--p:26.3">26.3%</td></tr>
<tr><td>福建</td><td>现货价(元/吨)</td><td>2670</td><td>2610</td><td class="r">60</td><td>2610</td><td class="r">60</td><td>2470</td><td class="r">200</td><td>50</td><td class="p" style="--p:100">100.0%</td><td class="p" style="--p:75">75.0%</td><td class="p" style="--p:26.3">26.3%</td></tr>
</tbody>
<tbody>
<tr class="s"><td class="c" rowspan="2">菜油</td><td colspan="2">国内市场</td><td>4月2日</td><td>4月1日</td><td>日涨跌</td><td>3月26日</td><td>周涨跌</td><td>3月5日</td><td>月涨跌</td><td>期货</td><td>4月2日</td><td>月度分位</td><td>季度分位</td><td>年度分位</td></tr>
<tr><td>江苏</td><td>现货价(元/吨)</td><td>8300</td><td>8240</td><td class="r">60</td><td>8440</td><td class="g">-140</td><td>8050</td><td class="r">250</td><td class="b">8155</td><td>145</td><td class="p" style="--p:35">35.0%</td><td class="p" style="--p:20">20.0%</td><td class="p" style="--p:17.1">17.1%</td></tr>
</tbody>
</table>
</body></html>
